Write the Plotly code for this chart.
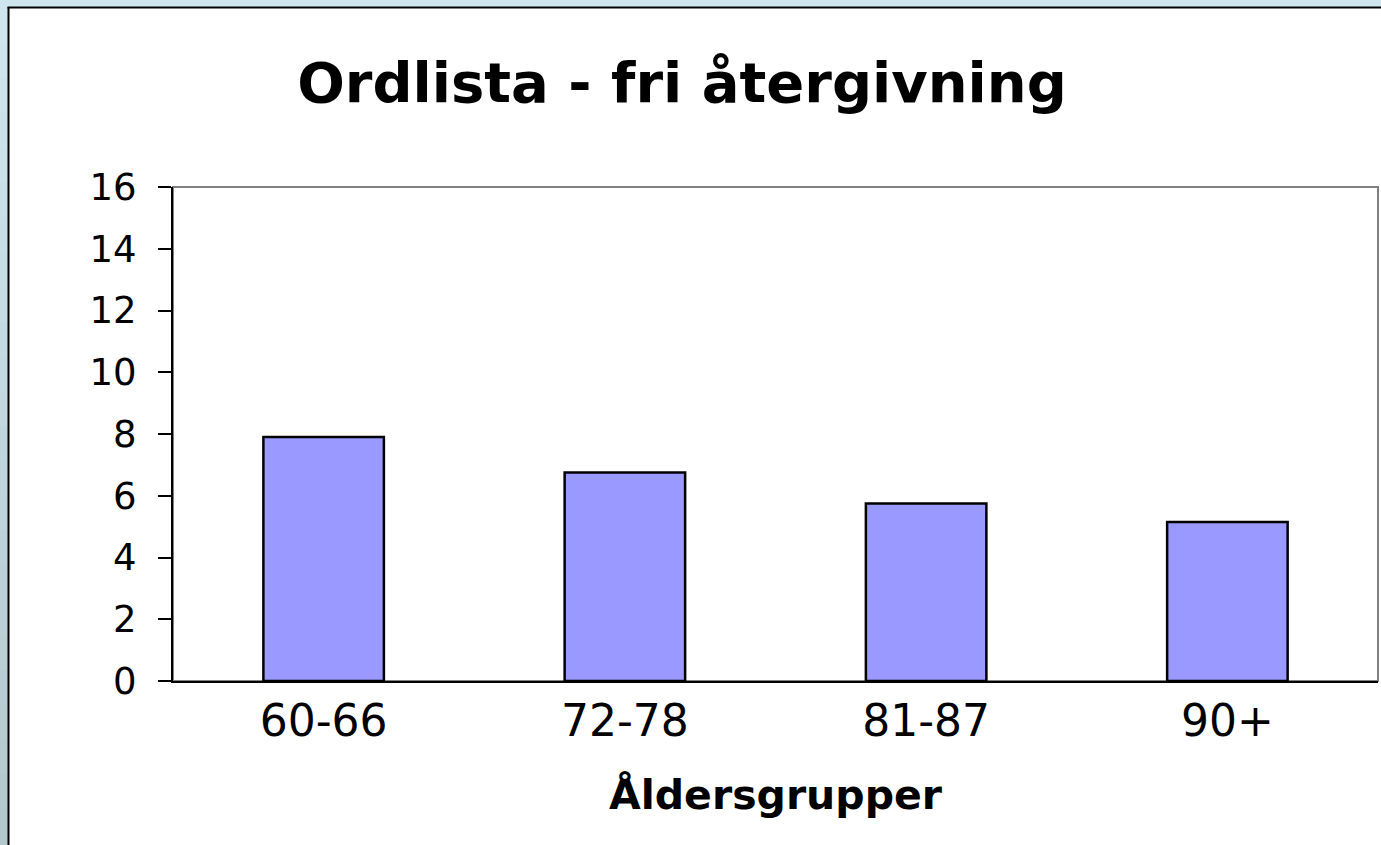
import plotly.graph_objects as go

# ---- data ----
categories = ["60-66", "72-78", "81-87", "90+"]
values = [7.9, 6.75, 5.75, 5.15]
y_ticks = [0, 2, 4, 6, 8, 10, 12, 14, 16]

title_text = "Ordlista - fri återgivning"
x_title = "Åldersgrupper"

# ---- geometry (pixels) ----
W, H = 1381, 845
L, R, T, B = 173, 3, 187, 164
PW = W - L - R
PH = H - T - B


def px_x(px):
    return (px - L) / PW


def px_y(py):
    return (H - B - py) / PH


FONT = "DejaVu Sans"

fig = go.Figure()
fig.add_trace(go.Bar(
    x=categories,
    y=values,
    width=0.4,
    marker=dict(color="#9999FF", line=dict(color="black", width=2.5)),
    hoverinfo="x+y",
))

shapes = []
# white panel
shapes.append(dict(type="rect", xref="paper", yref="paper", layer="below",
                   x0=px_x(9), x1=px_x(W + 5), y0=px_y(8), y1=px_y(H + 5),
                   fillcolor="white", line=dict(width=0)))
# left strip gradient
top_c = (208, 230, 238)
bot_c = (178, 200, 205)
n = 24
y_start, y_end = 8, H
for i in range(n):
    f = i / (n - 1)
    c = tuple(int(round(top_c[k] + (bot_c[k] - top_c[k]) * f)) for k in range(3))
    ya = y_start + (y_end - y_start) * i / n
    yb = y_start + (y_end - y_start) * (i + 1) / n
    shapes.append(dict(type="rect", xref="paper", yref="paper", layer="below",
                       x0=px_x(-2), x1=px_x(8), y0=px_y(ya), y1=px_y(yb + 1),
                       fillcolor="rgb(%d,%d,%d)" % c, line=dict(width=0)))
# black panel border (left & top)
shapes.append(dict(type="line", xref="paper", yref="paper", layer="below",
                   x0=px_x(8.5), x1=px_x(8.5), y0=px_y(7), y1=px_y(H + 5),
                   line=dict(color="black", width=2)))
shapes.append(dict(type="line", xref="paper", yref="paper", layer="below",
                   x0=px_x(7.5), x1=px_x(W + 5), y0=px_y(7.5), y1=px_y(7.5),
                   line=dict(color="black", width=2)))
# gray plot-area frame
shapes.append(dict(type="rect", xref="paper", yref="paper", layer="below",
                   x0=0, x1=1, y0=0, y1=1,
                   line=dict(color="#808080", width=2)))

fig.update_layout(
    width=W, height=H,
    margin=dict(l=L, r=R, t=T, b=B),
    paper_bgcolor="rgb(208,230,238)",
    plot_bgcolor="rgba(0,0,0,0)",
    showlegend=False,
    shapes=shapes,
    font=dict(family=FONT, color="black"),
    title=dict(text="<b>%s</b>" % title_text, x=682 / W, xref="container",
               xanchor="center", y=1 - 82 / H, yref="container", yanchor="middle",
               font=dict(family=FONT, size=56, color="black")),
    bargap=0.6,
)

fig.update_yaxes(
    range=[0, 16], tickvals=y_ticks, ticktext=[str(v) for v in y_ticks],
    ticks="outside", ticklen=13, tickwidth=2, tickcolor="black",
    showline=True, linecolor="black", linewidth=2,
    showgrid=False, zeroline=False,
    tickfont=dict(family=FONT, size=37, color="black"),
    ticklabelstandoff=14,
)
fig.update_xaxes(
    showline=True, linecolor="black", linewidth=2,
    ticks="", showgrid=False,
    tickfont=dict(family=FONT, size=44, color="black"),
    ticklabelstandoff=0,
    title=dict(text="<b>%s</b>" % x_title, font=dict(family=FONT, size=41, color="black"),
               standoff=36),
)

fig.write_html("out.html",
               config={"displayModeBar": False},
               post_script="document.body.style.margin='0';document.body.style.padding='0';")
